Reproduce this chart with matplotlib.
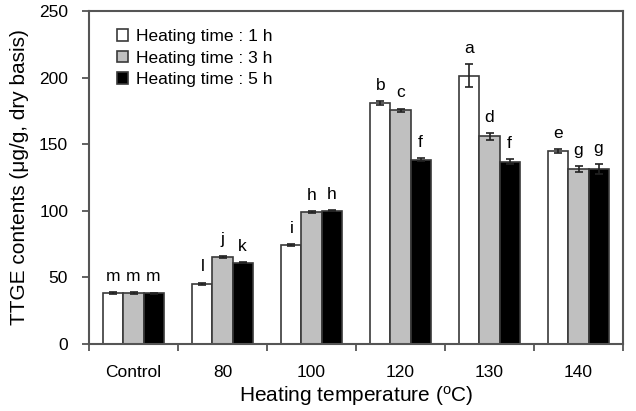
import matplotlib
matplotlib.use('Agg')
import matplotlib.pyplot as plt
import numpy as np

plt.rcParams['font.family'] = ['Liberation Sans', 'DejaVu Sans']

categories = ['Control', '80', '100', '120', '130', '140']
series_names = ['Heating time : 1 h', 'Heating time : 3 h', 'Heating time : 5 h']

# TTGE contents (ug/g, dry basis)
time_1h = [38, 45, 74, 181, 201.5, 145]
time_3h = [38, 65.5, 99, 175.5, 156, 131.5]
time_5h = [38, 61, 100, 138.5, 137, 131.5]

err_1h = [0.8, 1.0, 0.8, 1.5, 8.5, 1.5]
err_3h = [0.8, 0.8, 0.5, 1.2, 2.5, 2.0]
err_5h = [0.5, 0.5, 0.5, 0.8, 2.0, 3.5]

letters_1h = ['m', 'l', 'i', 'b', 'a', 'e']
letters_3h = ['m', 'j', 'h', 'c', 'd', 'g']
letters_5h = ['m', 'k', 'h', 'f', 'f', 'g']

values = [time_1h, time_3h, time_5h]
errors = [err_1h, err_3h, err_5h]
letters = [letters_1h, letters_3h, letters_5h]
colors = ['white', '#c0c0c0', 'black']

fig = plt.figure(figsize=(6.36, 4.11), dpi=100)
ax = fig.add_axes([89/636, 1-344/411, 534/636, 333/411])

x = np.arange(len(categories))
width = 0.225
for i in range(3):
    pos = x + (i - 1) * width
    ax.bar(pos, values[i], width, color=colors[i], edgecolor='#3a3a3a',
           linewidth=1.2, label=series_names[i], zorder=2)
    ax.errorbar(pos, values[i], yerr=errors[i], fmt='none', ecolor='#222222',
                elinewidth=1.2, capsize=3, capthick=1.2, zorder=3)
    for p, v, e, t in zip(pos, values[i], errors[i], letters[i]):
        ax.text(p, v + e + 8.5, t, ha='center', va='baseline', fontsize=12.5)

ax.set_xlim(-0.5, len(categories) - 0.5)
ax.set_ylim(0, 250)
ax.set_yticks([0, 50, 100, 150, 200, 250])

ax.set_xticks(x)
ax.set_xticklabels(categories)
ax.set_xticks(np.arange(-0.5, len(categories)), minor=True)
ax.tick_params(axis='x', which='major', length=0, pad=15, labelsize=12.5)
ax.tick_params(axis='x', which='minor', length=5, width=1.3, direction='out', color='#555555')
ax.tick_params(axis='y', length=5, width=1.3, direction='out', pad=10, labelsize=12.5, color='#555555')

for side in ['left', 'bottom', 'top', 'right']:
    ax.spines[side].set_color('#555555')
    ax.spines[side].set_linewidth(1.5)

ax.set_xlabel('Heating temperature ($\\mathregular{^oC}$)', fontsize=15)
ax.set_ylabel('TTGE contents (μg/g, dry basis)', fontsize=15)
ax.xaxis.set_label_coords(0.5, -0.12)
ax.yaxis.set_label_coords(-0.112, 0.5)

ax.legend(loc='upper left', bbox_to_anchor=(0.052, 0.946), frameon=False,
          fontsize=12.5, handlelength=0.65, handleheight=0.65, handletextpad=0.45,
          labelspacing=0.38, borderpad=0, borderaxespad=0)

fig.savefig('out.png', dpi=100)
